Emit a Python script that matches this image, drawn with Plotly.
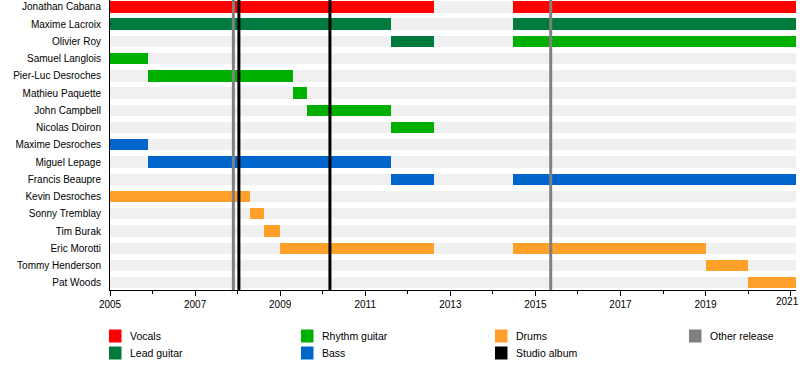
import plotly.graph_objects as go

# ---------------- data ----------------
members = ["Jonathan Cabana", "Maxime Lacroix", "Olivier Roy", "Samuel Langlois",
           "Pier-Luc Desroches", "Mathieu Paquette", "John Campbell", "Nicolas Doiron",
           "Maxime Desroches", "Miguel Lepage", "Francis Beaupre", "Kevin Desroches",
           "Sonny Tremblay", "Tim Burak", "Eric Morotti", "Tommy Henderson", "Pat Woods"]

timeline_start = 2005.0
timeline_end = 2021.126

tick_years = [2005, 2007, 2009, 2011, 2013, 2015, 2017, 2019, 2021]
tick_labels = ["2005", "2007", "2009", "2011", "2013", "2015", "2017", "2019", "2021"]

roles = ["Vocals", "Lead guitar", "Rhythm guitar", "Bass", "Drums"]
role_colors = ["#ff0000", "#007a3d", "#00b000", "#0066cc", "#ffa02a"]

bar_member = ["Jonathan Cabana", "Jonathan Cabana", "Maxime Lacroix", "Maxime Lacroix",
              "Olivier Roy", "Olivier Roy", "Samuel Langlois", "Pier-Luc Desroches",
              "Mathieu Paquette", "John Campbell", "Nicolas Doiron", "Maxime Desroches",
              "Miguel Lepage", "Francis Beaupre", "Francis Beaupre", "Kevin Desroches",
              "Sonny Tremblay", "Tim Burak", "Eric Morotti", "Eric Morotti",
              "Tommy Henderson", "Pat Woods"]
bar_role = ["Vocals", "Vocals", "Lead guitar", "Lead guitar",
            "Lead guitar", "Rhythm guitar", "Rhythm guitar", "Rhythm guitar",
            "Rhythm guitar", "Rhythm guitar", "Rhythm guitar", "Bass",
            "Bass", "Bass", "Bass", "Drums",
            "Drums", "Drums", "Drums", "Drums",
            "Drums", "Drums"]
bar_start = [2005.0, 2014.48, 2005.0, 2014.48,
             2011.6, 2014.48, 2005.0, 2005.9,
             2009.29, 2009.62, 2011.6, 2005.0,
             2005.9, 2011.6, 2014.48, 2005.0,
             2008.28, 2008.61, 2009.0, 2014.48,
             2019.0, 2020.0]
bar_end = [2012.62, timeline_end, 2011.6, timeline_end,
           2012.62, timeline_end, 2005.9, 2009.29,
           2009.62, 2011.6, 2012.62, 2005.9,
           2011.6, 2012.62, timeline_end, 2008.28,
           2008.61, 2009.0, 2012.62, 2019.0,
           2020.0, timeline_end]

studio_albums = [2008.03, 2010.17]
other_releases = [2007.90, 2015.36]

legend_labels = ["Vocals", "Lead guitar", "Rhythm guitar", "Bass", "Drums", "Studio album", "Other release"]
legend_colors = ["#ff0000", "#007a3d", "#00b000", "#0066cc", "#ffa02a", "#000000", "#808080"]

# ---------------- layout constants ----------------
W, H = 800, 368
ML, MR, MT, MB = 110, 4, 0, 78
PW, PH = W - ML - MR, H - MT - MB
FONT = "Liberation Sans, Arial, sans-serif"
BAR_W = 0.655


def px_to_paper_x(p):
    return (p - ML) / PW


def px_to_paper_y(p):
    return (H - MB - p) / PH


fig = go.Figure()

# background rows
fig.add_trace(go.Bar(
    y=members, x=[timeline_end - timeline_start] * len(members),
    base=[timeline_start] * len(members), orientation="h",
    marker=dict(color="#f0f0f0", line=dict(width=0)), width=BAR_W,
    showlegend=False, hoverinfo="skip"))

for role, color in zip(roles, role_colors):
    idx = [i for i, r in enumerate(bar_role) if r == role]
    fig.add_trace(go.Bar(
        y=[bar_member[i] for i in idx],
        x=[bar_end[i] - bar_start[i] for i in idx],
        base=[bar_start[i] for i in idx],
        orientation="h", name=role,
        marker=dict(color=color, line=dict(width=0)), width=BAR_W,
        showlegend=False))

shapes = []
for d in other_releases:
    shapes.append(dict(type="line", xref="x", yref="paper", x0=d, x1=d, y0=0, y1=1,
                       line=dict(color="#808080", width=3), layer="above"))
for d in studio_albums:
    shapes.append(dict(type="line", xref="x", yref="paper", x0=d, x1=d, y0=0, y1=1,
                       line=dict(color="#000000", width=3), layer="above"))

annotations = []
# last tick label drawn as annotation, nudged so it stays inside the page
annotations.append(dict(xref="x", yref="paper", x=tick_years[-1], y=px_to_paper_y(301),
                        text=tick_labels[-1], showarrow=False, xanchor="center",
                        yanchor="middle", xshift=-3,
                        font=dict(family=FONT, size=10, color="#000")))
axis_ticktext = tick_labels[:-1] + [""]

# legend laid out in a grid (column-major, 2 rows)
col_x = [109, 301, 495, 689]
row_y = [336, 353]
for k, (lab, col) in enumerate(zip(legend_labels, legend_colors)):
    c, r = divmod(k, 2)
    x0 = col_x[c]
    yc = row_y[r]
    shapes.append(dict(type="rect", xref="paper", yref="paper",
                       x0=px_to_paper_x(x0), x1=px_to_paper_x(x0 + 12.5),
                       y0=px_to_paper_y(yc + 6.5), y1=px_to_paper_y(yc - 6.5),
                       fillcolor=col, line=dict(width=0)))
    annotations.append(dict(xref="paper", yref="paper", x=px_to_paper_x(x0 + 19),
                            y=px_to_paper_y(yc), text=lab, showarrow=False,
                            xanchor="left", yanchor="middle",
                            font=dict(family=FONT, size=10.5, color="#000")))

fig.update_layout(
    width=W, height=H, margin=dict(l=ML, r=MR, t=MT, b=MB, pad=0, autoexpand=False),
    paper_bgcolor="white", plot_bgcolor="white",
    barmode="overlay", bargap=0,
    shapes=shapes, annotations=annotations,
    font=dict(family=FONT, size=10, color="#000"),
    showlegend=False,
    xaxis=dict(range=[timeline_start, timeline_end],
               tickmode="array", tickvals=tick_years, ticktext=axis_ticktext,
               ticks="outside", ticklen=5, tickcolor="#000", tickwidth=1,
               showline=True, linecolor="#000", linewidth=1,
               showgrid=False, zeroline=False, automargin=False,
               ticklabeloverflow="allow",
               tickfont=dict(family=FONT, size=10, color="#000"),
               minor=dict(dtick=1, tick0=2005, ticks="outside", ticklen=3,
                          tickcolor="#000", showgrid=False)),
    yaxis=dict(type="category", categoryorder="array", categoryarray=members,
               range=[16.415, -0.397], showline=True, linecolor="#000", linewidth=1,
               showgrid=False, zeroline=False, ticks="", ticklabelstandoff=6,
               automargin=False,
               tickfont=dict(family=FONT, size=10, color="#000")),
)

fig.write_html("out.html", config={"displayModeBar": False},
               post_script="document.body.style.margin='0px';")
